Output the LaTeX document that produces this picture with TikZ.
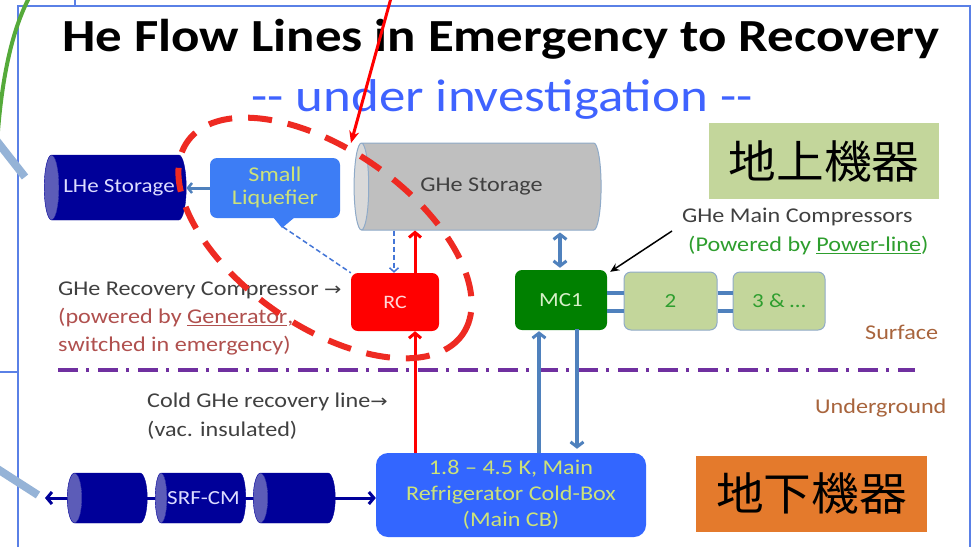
\documentclass[tikz,border=0pt]{standalone}
\usepackage{fontspec}
\usepackage{graphicx}
\setmainfont{Carlito}
\newfontfamily\cjk{Noto Sans CJK JP}
\newfontfamily\symf{DejaVu Sans}
\usetikzlibrary{arrows.meta,shapes.geometric}
\newcommand{\sx}[1]{\scalebox{1.15}[1]{#1}}
\definecolor{navy}{HTML}{000099}
\definecolor{navyend}{HTML}{5C5CB8}
\definecolor{lav}{HTML}{DCDCFF}
\definecolor{steel}{HTML}{4F81BD}
\definecolor{barblue}{HTML}{95B3D7}
\definecolor{boxblue}{HTML}{3366FF}
\definecolor{liqblue}{HTML}{3D7DF5}
\definecolor{ygtext}{HTML}{CCE27A}
\definecolor{lgreen}{HTML}{C3D69B}
\definecolor{dgreen}{HTML}{008000}
\definecolor{gtext}{HTML}{2E9E2E}
\definecolor{orng}{HTML}{E47A2C}
\definecolor{purp}{HTML}{7030A0}
\definecolor{brownt}{HTML}{A8643C}
\definecolor{redbrown}{HTML}{B0504E}
\definecolor{dgray}{HTML}{404040}
\definecolor{framec}{HTML}{5A80E6}
\definecolor{garc}{HTML}{55AA3A}
\definecolor{subblue}{HTML}{3F63FF}
\definecolor{gborder}{HTML}{8FAAC8}
\definecolor{gfill}{HTML}{BFBFBF}
\definecolor{gend}{HTML}{D9D9D9}
\definecolor{redl}{HTML}{FF0000}
\definecolor{ellred}{HTML}{EE2A22}
\begin{document}
\begin{tikzpicture}[x=1pt,y=-1pt,
  lbl/.style={inner sep=0pt, anchor=west, font=\fontsize{21}{25}\selectfont},
  cyl/.style={cylinder, shape border rotate=180, cylinder uses custom fill, inner sep=0pt},
  rbox/.style={rounded corners=7pt, inner sep=0pt},
  pipe/.style={draw=steel, line width=4pt},
  bluearrow/.style={pipe, -{Straight Barb[length=5pt,width=13pt,line width=3pt]}},
  redarrow/.style={draw=redl, line width=3pt, -{Straight Barb[length=5pt,width=12pt,line width=3pt]}},
  dasharrow/.style={draw=steel!60!boxblue, line width=1.5pt, dash pattern=on 5pt off 3pt, -{Straight Barb[length=4pt,width=9pt,line width=1.5pt]}},
  bar/.style={draw=barblue, line width=8pt},
]
\useasboundingbox (0,0) rectangle (974,547);
\fill[white] (0,0) rectangle (974,547);

% frame
\draw[framec, line width=1.2pt] (18,547) -- (18,6) -- (970,6) -- (970,547);
\draw[framec, line width=1.2pt] (75,0) -- (75,6);
\draw[framec, line width=1.2pt] (0,372) -- (18,372);

% title
\node (title) at (501,39) {\sx{\fontsize{46}{50}\selectfont\bfseries He Flow Lines in Emergency to Recovery}};
\node[text=subblue] (sub) at (502,99) {\sx{\fontsize{46}{50}\selectfont -{}- under investigation -{}-}};

% label boxes
\node[fill=lgreen, minimum width=230pt, minimum height=76pt, inner sep=0pt] (jp1) at (824,161) {\scalebox{1.06}[1]{\cjk\fontsize{45}{50}\selectfont 地上機器}};
\node[fill=orng, minimum width=231pt, minimum height=76pt, inner sep=0pt] (jp2) at (811.5,493.5) {\scalebox{1.06}[1]{\cjk\fontsize{45}{50}\selectfont 地下機器}};

% dash-dot ground line
\coordinate (gl) at (58,370);
\coordinate (gr) at (915,370);
\draw[purp, line width=4pt, dash pattern=on 20pt off 8pt on 3pt off 9pt] (gl) -- (gr);

% cylinders
\node[cyl, aspect=0.85, minimum height=247pt, minimum width=87pt, cylinder body fill=gfill, cylinder end fill=gend, draw=gborder, line width=1pt, text=dgray] (ghe) at (481.5,186.5) {\sx{\fontsize{21}{26}\selectfont GHe Storage}};
\node[cyl, aspect=0.9, minimum height=142pt, minimum width=65pt, cylinder body fill=navy, cylinder end fill=navyend, draw=navy, text=lav] (lhe) at (119,187.5) {\sx{\fontsize{20}{24}\selectfont LHe Storage}};

% boxes
\node[rbox, fill=liqblue, minimum width=130pt, minimum height=60pt, text=ygtext, font=\fontsize{21}{26}\selectfont] (liq) at (275,188) {\sx{\begin{tabular}{@{}c@{}}Small\\[-3pt]Liquefier\end{tabular}}};
\fill[liqblue] (273,217) -- (282,228) -- (295,217) -- cycle;
\coordinate (tail) at (283,227);
\node[rbox, fill=redl, minimum width=88pt, minimum height=58pt, text={rgb,255:red,255;green,215;blue,215}, font=\fontsize{19}{22}\selectfont] (rc) at (395,302) {\sx{RC}};
\node[rbox, fill=dgreen, minimum width=92pt, minimum height=60pt, text={rgb,255:red,215;green,240;blue,200}, font=\fontsize{20}{24}\selectfont] (mc1) at (561,300) {\sx{MC1}};
\node[rbox, fill=lgreen, draw=gborder, line width=1pt, minimum width=93pt, minimum height=58pt, text=gtext, font=\fontsize{20}{24}\selectfont] (b2) at (670.5,301) {\sx{2}};
\node[rbox, fill=lgreen, draw=gborder, line width=1pt, minimum width=92pt, minimum height=58pt, text=gtext, font=\fontsize{20}{24}\selectfont] (b3) at (779,301) {\sx{3 \& \dots}};
\node[rbox, rounded corners=12pt, fill=boxblue, minimum width=270pt, minimum height=84pt, text=ygtext, font=\fontsize{21}{27}\selectfont] (cb) at (511,495) {\sx{\begin{tabular}{@{}c@{}}1.8 – 4.5 K, Main\\[-1pt]Refrigerator Cold-Box\\[-1pt](Main CB)\end{tabular}}};

% SRF-CM line and cylinders
\coordinate (lend) at (45,498);
\draw[navy, line width=3pt, {Straight Barb[length=5pt,width=12pt,line width=3pt]}-{Straight Barb[length=5pt,width=12pt,line width=3pt]}] (lend) -- (lend -| cb.west);
\node[cyl, aspect=0.9, minimum height=80pt, minimum width=50pt, cylinder body fill=navy, cylinder end fill=navyend, draw=navy] (s1) at (111,498) {\fontsize{20}{24}\selectfont\phantom{Mg}};
\node[cyl, aspect=0.9, minimum height=83pt, minimum width=50pt, cylinder body fill=navy, cylinder end fill=navyend, draw=navy, text=lav] (s2) at (203.5,498) {\sx{\fontsize{20}{24}\selectfont SRF-CM}};
\node[cyl, aspect=0.9, minimum height=82pt, minimum width=50pt, cylinder body fill=navy, cylinder end fill=navyend, draw=navy] (s3) at (298,498) {\fontsize{20}{24}\selectfont\phantom{Mg}};
\draw[navy, line width=3pt] (s1.east |- lend) -- (s2.west |- lend);
\draw[navy, line width=3pt] (s2.east |- lend) -- (s3.west |- lend);

% connectors
\draw[draw=steel, line width=3pt, -{Straight Barb[length=4pt,width=10pt,line width=2.5pt]}] (liq.west) -- (lhe.east |- liq.west);
\draw[steel!60!boxblue, line width=1.5pt, dash pattern=on 5pt off 3pt] (tail) -- (rc.north west);
\coordinate (xd) at (394,0);
\coordinate (xr) at (415,0);
\coordinate (xm) at (560,0);
\coordinate (xu) at (539,0);
\coordinate (xw) at (577,0);
\draw[dasharrow] (ghe.south -| xd) -- (rc.north -| xd);
\draw[redarrow] (rc.north -| xr) -- (ghe.south -| xr);
\draw[redarrow] (cb.north -| xr) -- (rc.south -| xr);
\draw[pipe, {Straight Barb[length=5pt,width=13pt,line width=3pt]}-{Straight Barb[length=5pt,width=13pt,line width=3pt]}] ([yshift=-2pt]ghe.south -| xm) -- ([yshift=2pt]mc1.north -| xm);
\draw[bluearrow] (cb.north -| xu) -- ([yshift=-1pt]mc1.south -| xu);
\draw[bluearrow] ([yshift=1pt]mc1.south -| xw) -- ([yshift=4pt]cb.north -| xw);
\draw[pipe] ([yshift=7pt]mc1.east) -- ([yshift=7pt]b2.west |- mc1.east);
\draw[pipe] ([yshift=-11pt]mc1.east) -- ([yshift=-11pt]b2.west |- mc1.east);
\draw[pipe] ([yshift=7pt]b2.east |- mc1.east) -- ([yshift=7pt]b3.west |- mc1.east);
\draw[pipe] ([yshift=-11pt]b2.east |- mc1.east) -- ([yshift=-11pt]b3.west |- mc1.east);

% labels
\node[lbl, text=dgray] (mctxt) at (682,217) {\sx{GHe Main Compressors}};
\node[lbl, text=gtext] (mcpow) at (688,246) {\sx{(Powered by \underline{Power-line})}};
\coordinate (ptr) at (672,231);
\draw[black, line width=1.5pt, -{Stealth[length=9pt,width=8pt]}] (ptr) -- ([xshift=3pt,yshift=-2pt]mc1.north east);
\node[lbl, text=dgray] (rctxt) at (58,290) {\sx{GHe Recovery Compressor {\symf\fontsize{18}{22}\selectfont →}}};
\node[lbl, text=redbrown] (rcpow) at (58,318) {\sx{(powered by \underline{Generator},}};
\node[lbl, text=redbrown] (rcsw) at (58,346) {\sx{switched in emergency)}};
\node[lbl, text=brownt] (surf) at (865,332) {\sx{Surface}};
\node[lbl, text=brownt] (ug) at (815,408) {\sx{Underground}};
\node[lbl, text=dgray] (cold) at (147,402) {\sx{Cold GHe recovery line{\symf\fontsize{18}{22}\selectfont →}}};
\node[lbl, text=dgray] (vac) at (147,430) {\sx{(vac. insulated)}};

% red dashed ellipse
\draw[ellred, line width=6pt, dash pattern=on 24pt off 16pt] plot[domain=0:360, samples=140, smooth] ({325+168*cos(\x)*0.8192-88*sin(\x)*0.5736},{238+168*cos(\x)*0.5736+88*sin(\x)*0.8192});

% red pointer from top
\coordinate (rtop) at (391,-2);
\draw[redl, line width=3pt, -{Stealth[length=12pt,width=10pt]}] (rtop) -- (351,143);

% left decorations
\draw[garc, line width=4pt] (29,-2) .. controls (12,30) and (1,80) .. (-3,145);
\coordinate (b1a) at (-4,140);
\coordinate (b1b) at (25,177);
\coordinate (b2a) at (-4,468);
\coordinate (b2b) at (38,495);
\draw[bar] (b1a) -- (b1b);
\draw[bar] (b2a) -- (b2b);
\end{tikzpicture}
\end{document}
